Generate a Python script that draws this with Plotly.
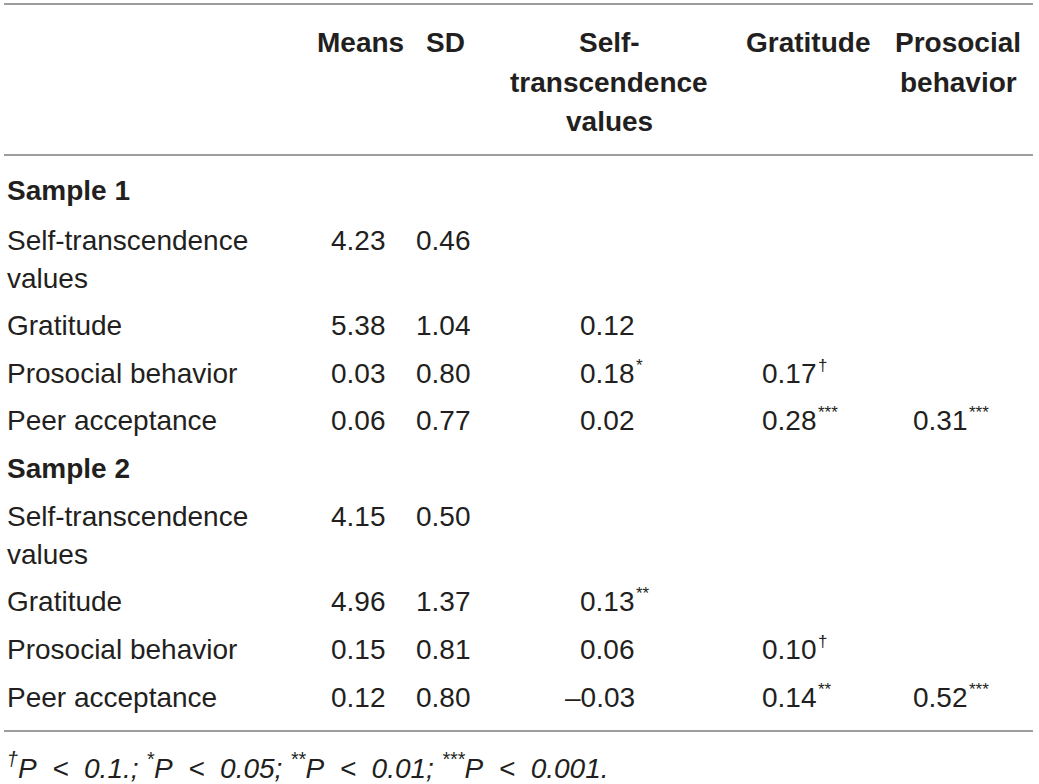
import plotly.graph_objects as go

# table content
col_headers = ["Means", "SD", "Self-<br>transcendence<br>values", "Gratitude", "Prosocial<br>behavior"]
samples = ["Sample 1", "Sample 2"]
row_labels = ["Self-transcendence<br>values", "Gratitude", "Prosocial behavior", "Peer acceptance"]

means_s1 = ["4.23", "5.38", "0.03", "0.06"]
sd_s1 = ["0.46", "1.04", "0.80", "0.77"]
self_trans_s1 = ["", "0.12", "0.18*", "0.02"]
gratitude_s1 = ["", "", "0.17†", "0.28***"]
prosocial_s1 = ["", "", "", "0.31***"]

means_s2 = ["4.15", "4.96", "0.15", "0.12"]
sd_s2 = ["0.50", "1.37", "0.81", "0.80"]
self_trans_s2 = ["", "0.13**", "0.06", "–0.03"]
gratitude_s2 = ["", "", "0.10†", "0.14**"]
prosocial_s2 = ["", "", "", "0.52***"]

p_marks = ["†", "*", "**", "***"]
p_levels = ["0.1.", "0.05", "0.01", "0.001."]

# layout in pixel units (x axis 0..W, y axis top-down)
W, H = 1039, 784
FONT = "Liberation Sans, Arial, sans-serif"
INK = "#231f20"
RULE = "#9d9d9d"
SIZE = 28

header_x = [360, 445, 609, 808, 958]
header_line_y = [42, 82, 121]
value_edge = [388, 473, 637, 819, 970]
sample_y = [190, 468]
row_y = [[240, 325, 373, 420], [516, 601, 649, 697]]
wrap_gap = 38
rules_y = [4, 155, 731]

fig = go.Figure()
notes = []


def add_text(x, y, text, anchor="left", size=SIZE, bold=False, xshift=0):
    notes.append(dict(
        x=x, y=y, xref="x", yref="y", text=f"<b>{text}</b>" if bold else text,
        showarrow=False, xanchor=anchor, yanchor="middle", xshift=xshift,
        font=dict(family=FONT, size=size, color=INK),
    ))


def add_value(col, y, cell):
    if not cell:
        return
    num = cell.rstrip("*†")
    mark = cell[len(num):]
    add_text(value_edge[col], y, num, anchor="right")
    if mark:
        add_text(value_edge[col], y - 8, mark, anchor="left", size=17, xshift=-3)


# header, one annotation per wrapped line
for c, head in enumerate(col_headers):
    for k, part in enumerate(head.split("<br>")):
        add_text(header_x[c], header_line_y[k], part, anchor="center", bold=True)

blocks = [
    (means_s1, sd_s1, self_trans_s1, gratitude_s1, prosocial_s1),
    (means_s2, sd_s2, self_trans_s2, gratitude_s2, prosocial_s2),
]

for s, name in enumerate(samples):
    add_text(5, sample_y[s], name, bold=True)
    for r, label in enumerate(row_labels):
        y = row_y[s][r]
        for k, part in enumerate(label.split("<br>")):
            add_text(5, y + k * wrap_gap, part)
        for c, column in enumerate(blocks[s]):
            add_value(c, y, column[r])

# footnote, wide spacing round the "<" like the original
footnote = "; ".join(f"<sup>{m}</sup>P&nbsp; &lt; &nbsp;{p}" for m, p in zip(p_marks, p_levels))
add_text(5, 766, f"<i>{footnote}</i>")

# invisible trace so the axes exist
fig.add_trace(go.Scatter(x=[0, W], y=[0, H], mode="markers",
                         marker=dict(opacity=0), hoverinfo="skip", showlegend=False))

shapes = [dict(type="line", xref="x", yref="y", x0=4, x1=1033, y0=y, y1=y,
               line=dict(color=RULE, width=2)) for y in rules_y]

fig.update_layout(
    width=W, height=H,
    margin=dict(l=0, r=0, t=0, b=0),
    paper_bgcolor="white", plot_bgcolor="white",
    xaxis=dict(range=[0, W], visible=False, fixedrange=True),
    yaxis=dict(range=[H, 0], visible=False, fixedrange=True),
    annotations=notes,
    shapes=shapes,
)

fig.write_html("out.html", config={"displayModeBar": False},
               post_script="document.body.style.margin='0';")
